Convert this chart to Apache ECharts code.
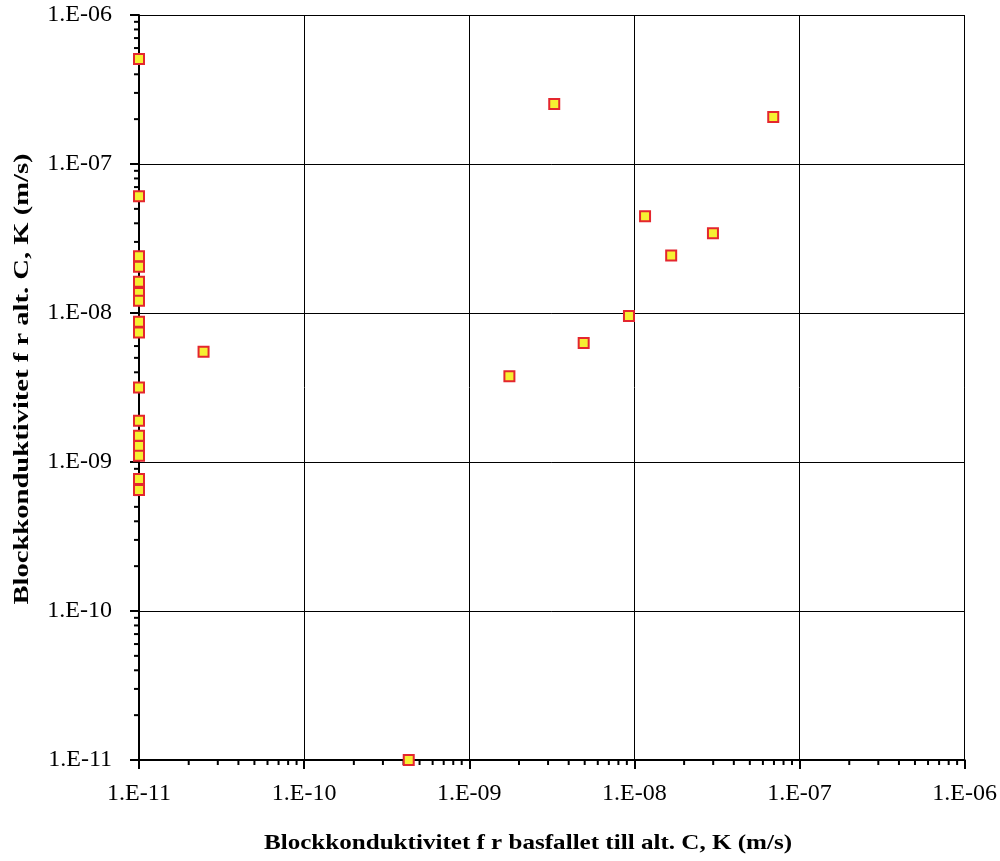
<!DOCTYPE html>
<html>
<head>
<meta charset="utf-8">
<script src="https://cdn.jsdelivr.net/npm/echarts@6/dist/echarts.min.js"></script>
<style>html,body{margin:0;padding:0;background:#fff}#c{width:1000px;height:861px}</style>
</head>
<body>
<div id="c"></div>
<script>
// Values (m/s)
var kBase = [1e-11,1e-11,1e-11,1e-11,1e-11,1e-11,1e-11,1e-11,1e-11,1e-11,1e-11,1e-11,1e-11,1e-11,1e-11,1e-11,
             2.46e-11,4.3e-10,1.75e-9,3.27e-9,4.93e-9,9.27e-9,1.16e-8,1.67e-8,2.99e-8,6.93e-8];
var kAltC = [5.07e-7,6.07e-8,2.40e-8,2.04e-8,1.62e-8,1.36e-8,1.21e-8,8.72e-9,7.41e-9,3.16e-9,1.89e-9,1.50e-9,1.28e-9,1.10e-9,7.68e-10,6.48e-10,
             5.5e-9,1e-11,3.76e-9,2.53e-7,6.29e-9,9.53e-9,4.46e-8,2.43e-8,3.43e-8,2.07e-7];
var tickLabels = {'-11':'1.E-11','-10':'1.E-10','-9':'1.E-09','-8':'1.E-08','-7':'1.E-07','-6':'1.E-06'};
var xTitle = 'Blockkonduktivitet f r basfallet till alt. C, K (m/s)';
var yTitle = 'Blockkonduktivitet f r alt. C, K (m/s)';
var decades = [-11,-10,-9,-8,-7];
var minorMultipliers = [2,3,4,5,6,7,8,9];

var points = kBase.map(function(x,i){return [x,kAltC[i]];});
var minorVals = [];
decades.forEach(function(d){minorMultipliers.forEach(function(m){minorVals.push(m*Math.pow(10,d));});});

function fmt(v){
  var e = Math.round(Math.log10(v));
  return tickLabels[String(e)] || '';
}
var serif = '"Liberation Serif", "Times New Roman", serif';

var chart = echarts.init(document.getElementById('c'), null, {renderer:'canvas'});
var axisCommon = {
  type:'log', logBase:10, min:1e-11, max:1e-6,
  axisLine:{show:true, onZero:false, lineStyle:{color:'#000', width:2}},
  axisTick:{show:true, length:9, lineStyle:{color:'#000', width:2}},
  splitLine:{show:true, lineStyle:{color:'#000', width:1}},
  axisLabel:{formatter:fmt, color:'#000', fontFamily:serif, fontSize:24}
};
chart.setOption({
  animation:false,
  backgroundColor:'#fff',
  grid:{left:139, right:34, top:15, bottom:101, containLabel:false},
  xAxis: Object.assign({}, axisCommon, {axisLabel:Object.assign({}, axisCommon.axisLabel, {margin:22})}),
  yAxis: Object.assign({}, axisCommon, {axisLabel:Object.assign({}, axisCommon.axisLabel, {margin:27})}),
  graphic:[
    {type:'text', x:528, y:843, scaleX:1.14, style:{text:xTitle, font:'bold 22px '+serif, fill:'#000', align:'center', verticalAlign:'middle'}},
    {type:'text', x:22, y:379, rotation:Math.PI/2, scaleX:1.3, style:{text:yTitle, font:'bold 22px '+serif, fill:'#000', align:'center', verticalAlign:'middle'}}
  ],
  series:[
    {type:'custom', silent:true, clip:false, z:1,
     data:minorVals,
     renderItem:function(params, api){
       var v = api.value(0);
       var py = api.coord([1e-11, v]);
       var px = api.coord([v, 1e-11]);
       return {type:'group', children:[
         {type:'line', shape:{x1:py[0]-5, y1:py[1], x2:py[0], y2:py[1]}, style:{stroke:'#000', lineWidth:2}},
         {type:'line', shape:{x1:px[0], y1:px[1], x2:px[0], y2:px[1]+5}, style:{stroke:'#000', lineWidth:2}}
       ]};
     },
     encode:{x:0}
    },
    {type:'scatter', data:points, symbol:'rect', symbolSize:10, z:5,
     itemStyle:{color:'#f6f032', borderColor:'#e4262e', borderWidth:2, opacity:1}}
  ]
});
</script>
</body>
</html>
